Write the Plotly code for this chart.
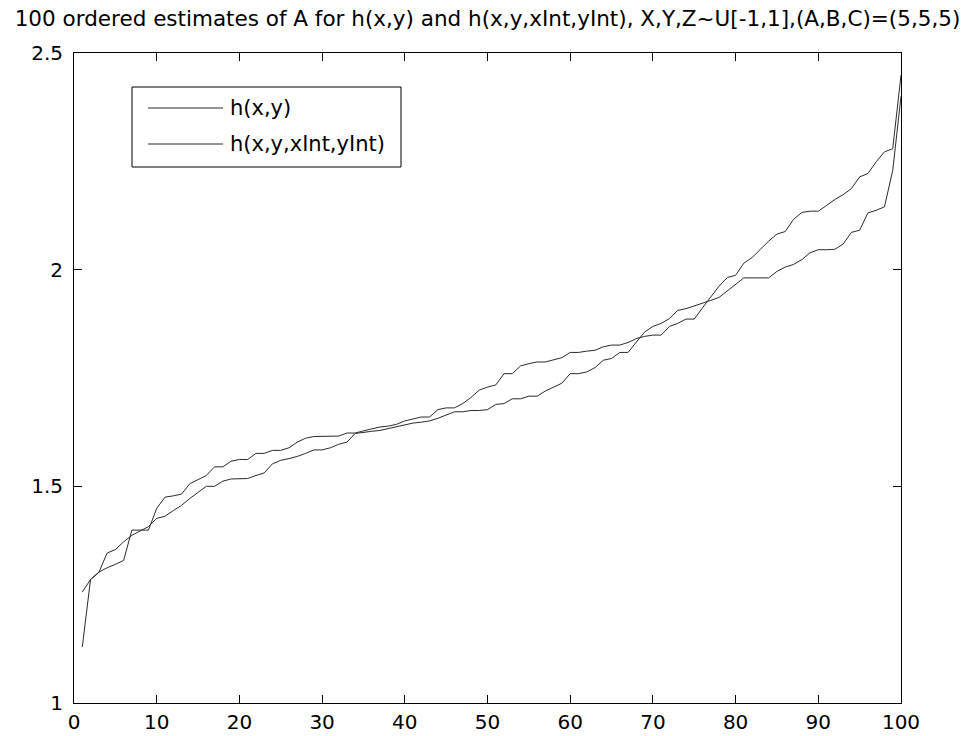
import plotly.graph_objects as go

x_index = list(range(1, 101))

h_xy = [1.256, 1.285, 1.301, 1.346, 1.354, 1.372, 1.387, 1.397, 1.407, 1.426,
        1.431, 1.444, 1.456, 1.472, 1.485, 1.500, 1.500, 1.512, 1.517, 1.518,
        1.518, 1.525, 1.531, 1.552, 1.560, 1.564, 1.569, 1.576, 1.584, 1.584,
        1.589, 1.597, 1.602, 1.622, 1.625, 1.627, 1.629, 1.633, 1.637, 1.642,
        1.646, 1.648, 1.651, 1.657, 1.665, 1.672, 1.672, 1.675, 1.675, 1.677,
        1.689, 1.691, 1.702, 1.702, 1.708, 1.708, 1.720, 1.729, 1.738, 1.760,
        1.760, 1.764, 1.774, 1.791, 1.795, 1.809, 1.809, 1.833, 1.856, 1.869,
        1.876, 1.887, 1.906, 1.910, 1.916, 1.922, 1.929, 1.936, 1.951, 1.966,
        1.981, 1.981, 1.981, 1.981, 1.996, 2.006, 2.012, 2.023, 2.039, 2.046,
        2.046, 2.047, 2.059, 2.086, 2.091, 2.131, 2.137, 2.145, 2.229, 2.400]

h_xy_int = [1.129, 1.285, 1.302, 1.312, 1.320, 1.329, 1.399, 1.399, 1.399, 1.449,
            1.475, 1.478, 1.482, 1.506, 1.516, 1.525, 1.545, 1.545, 1.558, 1.562,
            1.562, 1.576, 1.576, 1.583, 1.583, 1.589, 1.602, 1.611, 1.615, 1.615,
            1.615, 1.616, 1.623, 1.623, 1.628, 1.632, 1.637, 1.639, 1.643, 1.651,
            1.655, 1.660, 1.660, 1.677, 1.681, 1.681, 1.691, 1.705, 1.722, 1.729,
            1.734, 1.760, 1.760, 1.778, 1.783, 1.787, 1.787, 1.792, 1.797, 1.809,
            1.809, 1.812, 1.814, 1.822, 1.826, 1.826, 1.832, 1.841, 1.846, 1.849,
            1.849, 1.869, 1.876, 1.886, 1.886, 1.912, 1.936, 1.962, 1.982, 1.987,
            2.015, 2.028, 2.047, 2.066, 2.082, 2.088, 2.116, 2.132, 2.135, 2.135,
            2.148, 2.162, 2.173, 2.187, 2.214, 2.222, 2.249, 2.272, 2.279, 2.449]

series_names = ["h(x,y)", "h(x,y,xInt,yInt)"]
x_ticks = [0, 10, 20, 30, 40, 50, 60, 70, 80, 90, 100]
y_ticks = [1, 1.5, 2, 2.5]
y_tick_labels = ["1", "1.5", "2", "2.5"]
title_text = "100 ordered estimates of A for h(x,y) and h(x,y,xInt,yInt), X,Y,Z~U[-1,1],(A,B,C)=(5,5,5)"

FONT = "DejaVu Sans, Liberation Sans, Arial, sans-serif"
LINE_COLOR = "#2a2a2a"
FS = 20

fig = go.Figure()
for name, ys in zip(series_names, [h_xy, h_xy_int]):
    fig.add_trace(go.Scatter(x=x_index, y=ys, mode="lines", name=name,
                             line=dict(color=LINE_COLOR, width=1), showlegend=False))

W, H = 964, 736
L, R, T, B = 74, 63, 53, 33
pw, ph = W - L - R, H - T - B

def px_to_paper(px, py):
    return (px - L) / pw, (H - B - py) / ph

# manual legend (MATLAB style box)
bx0, by0 = px_to_paper(132, 87)
bx1, by1 = px_to_paper(401, 167)
fig.add_shape(type="rect", xref="paper", yref="paper", x0=bx0, y0=by1, x1=bx1, y1=by0,
              line=dict(color="black", width=1), fillcolor="white", layer="above")
rows = [108, 144]
for name, ry in zip(series_names, rows):
    lx0, ly = px_to_paper(148, ry)
    lx1, _ = px_to_paper(223, ry)
    tx, _ = px_to_paper(229, ry)
    fig.add_shape(type="line", xref="paper", yref="paper", x0=lx0, x1=lx1, y0=ly, y1=ly,
                  line=dict(color=LINE_COLOR, width=1), layer="above")
    fig.add_annotation(xref="paper", yref="paper", x=tx, y=ly, text=name, showarrow=False,
                       xanchor="left", yanchor="middle", borderpad=0,
                       font=dict(family=FONT, size=21, color="black"))

fig.update_layout(
    width=W, height=H,
    margin=dict(l=L, r=R, t=T, b=B),
    paper_bgcolor="white", plot_bgcolor="white",
    font=dict(family=FONT, size=FS, color="black"),
    title=dict(text=title_text, x=0.5, xref="paper", xanchor="center",
               y=1 - 18 / H, yref="container", yanchor="middle",
               font=dict(family=FONT, size=21.5, color="black")),
)
fig.update_xaxes(range=[0, 100], tickvals=x_ticks, ticks="inside", ticklen=8,
                 tickcolor="black", showline=True, linecolor="black", linewidth=1,
                 mirror="ticks", showgrid=False, zeroline=False, automargin=False,
                 ticklabelstandoff=1,
                 tickfont=dict(family=FONT, size=FS, color="black"))
fig.update_yaxes(range=[1, 2.5], tickvals=y_ticks, ticktext=y_tick_labels, ticks="inside",
                 ticklen=8, tickcolor="black", showline=True, linecolor="black", linewidth=1,
                 mirror="ticks", showgrid=False, zeroline=False, automargin=False,
                 ticklabelstandoff=6,
                 tickfont=dict(family=FONT, size=FS, color="black"))

fig.write_html("out.html")
